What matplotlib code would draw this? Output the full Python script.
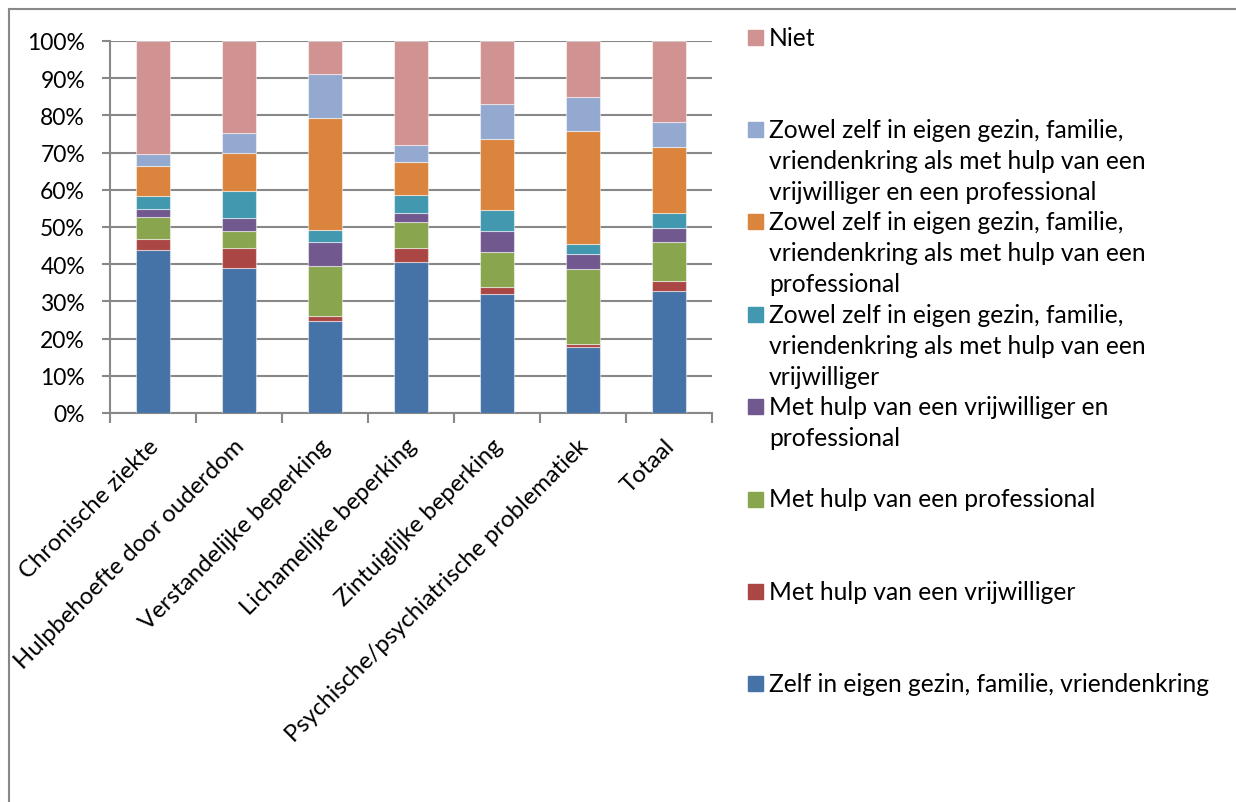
import matplotlib
matplotlib.use("Agg")
import matplotlib.pyplot as plt
from matplotlib.lines import Line2D
from matplotlib.patches import Rectangle
import matplotlib.transforms as mtransforms
import numpy as np

plt.rcParams['font.family'] = ['Lato', 'DejaVu Sans']

# Categories (x axis)
categories = ["Chronische ziekte", "Hulpbehoefte door ouderdom", "Verstandelijke beperking",
              "Lichamelijke beperking", "Zintuiglijke beperking",
              "Psychische/psychiatrische problematiek", "Totaal"]

# Percentages per series, bottom to top
zelf = [43.9, 39.0, 24.6, 40.5, 31.9, 17.7, 32.7]
vrijwilliger = [3.0, 5.4, 1.4, 3.9, 2.0, 0.8, 2.8]
professional = [5.9, 4.4, 13.5, 6.9, 9.3, 20.2, 10.6]
vrijw_prof = [2.0, 3.7, 6.6, 2.4, 5.7, 4.1, 3.6]
zowel_vrijw = [3.4, 7.3, 3.0, 4.8, 5.8, 2.6, 4.1]
zowel_prof = [8.1, 10.1, 30.3, 9.1, 18.9, 30.5, 17.8]
zowel_beide = [3.2, 5.5, 11.6, 4.4, 9.4, 9.1, 6.5]
niet = [30.5, 24.6, 9.0, 28.0, 17.0, 15.0, 21.9]

series = [zelf, vrijwilliger, professional, vrijw_prof, zowel_vrijw, zowel_prof, zowel_beide, niet]
colors = ["#4572A7", "#AA4643", "#89A54E", "#71588F", "#4198AF", "#DB843D", "#93A9CF", "#D19392"]

legend_lines = [
    ["Zelf in eigen gezin, familie, vriendenkring"],
    ["Met hulp van een vrijwilliger"],
    ["Met hulp van een professional"],
    ["Met hulp van een vrijwilliger en", "professional"],
    ["Zowel zelf in eigen gezin, familie,", "vriendenkring als met hulp van een", "vrijwilliger"],
    ["Zowel zelf in eigen gezin, familie,", "vriendenkring als met hulp van een", "professional"],
    ["Zowel zelf in eigen gezin, familie,", "vriendenkring als met hulp van een", "vrijwilliger en een professional"],
    ["Niet"],
]

W, H = 1236, 803
fig = plt.figure(figsize=(W / 100, H / 100), dpi=100)
ax = fig.add_axes([110 / W, (H - 414) / H, (712 - 110) / W, (414 - 42) / H])

x = np.arange(len(categories))
bottom = np.zeros(len(categories))
for vals, c in zip(series, colors):
    ax.bar(x, vals, 0.4, bottom=bottom, color=c, edgecolor=(1, 1, 1, 0.5), linewidth=0.8, zorder=3)
    bottom += np.array(vals)

grey = "#888888"
ax.set_xlim(-0.5, len(categories) - 0.5)
ax.set_ylim(0, 100)
ax.set_yticks(np.arange(0, 101, 10))
ax.set_yticklabels([f"{v}%" for v in range(0, 101, 10)], fontsize=16.5)
ax.grid(axis='y', color=grey, linewidth=1.5, zorder=0)
ax.tick_params(axis='y', length=6, width=1.5, color=grey, pad=12)

ax.set_xticks(x)
ax.set_xticklabels(categories, rotation=45, ha='right', va='center', rotation_mode='anchor', fontsize=17.2)
ax.tick_params(axis='x', which='major', length=0, pad=21)
shift = mtransforms.ScaledTranslation(2 / 100, 0, fig.dpi_scale_trans)
for lab in ax.get_xticklabels():
    lab.set_transform(lab.get_transform() + shift)
ax.set_xticks(np.arange(-0.5, len(categories)), minor=True)
ax.tick_params(axis='x', which='minor', length=7, width=1.5, color=grey)

for s in ['top', 'right']:
    ax.spines[s].set_visible(False)
for s in ['left', 'bottom']:
    ax.spines[s].set_color(grey)
    ax.spines[s].set_linewidth(1.5)

# legend, top entry first, as in the chart
for i, (lines, c) in enumerate(zip(legend_lines[::-1], colors[::-1])):
    y0 = 38 + 92.4 * i
    fig.add_artist(Rectangle((748 / W, 1 - (y0 + 7.5) / H), 15 / W, 15 / H,
                             transform=fig.transFigure, color=c))
    for j, line in enumerate(lines):
        fig.text(769 / W, 1 - (y0 + 31 * j) / H, line, fontsize=17.7, va='center', ha='left')

# outer chart border
fig.add_artist(Line2D([9 / W, 9 / W], [0, 1 - 10 / H], color=grey, linewidth=1.5))
fig.add_artist(Line2D([9 / W, 1], [1 - 10 / H, 1 - 10 / H], color=grey, linewidth=1.5))

fig.savefig("out.png", dpi=100)
